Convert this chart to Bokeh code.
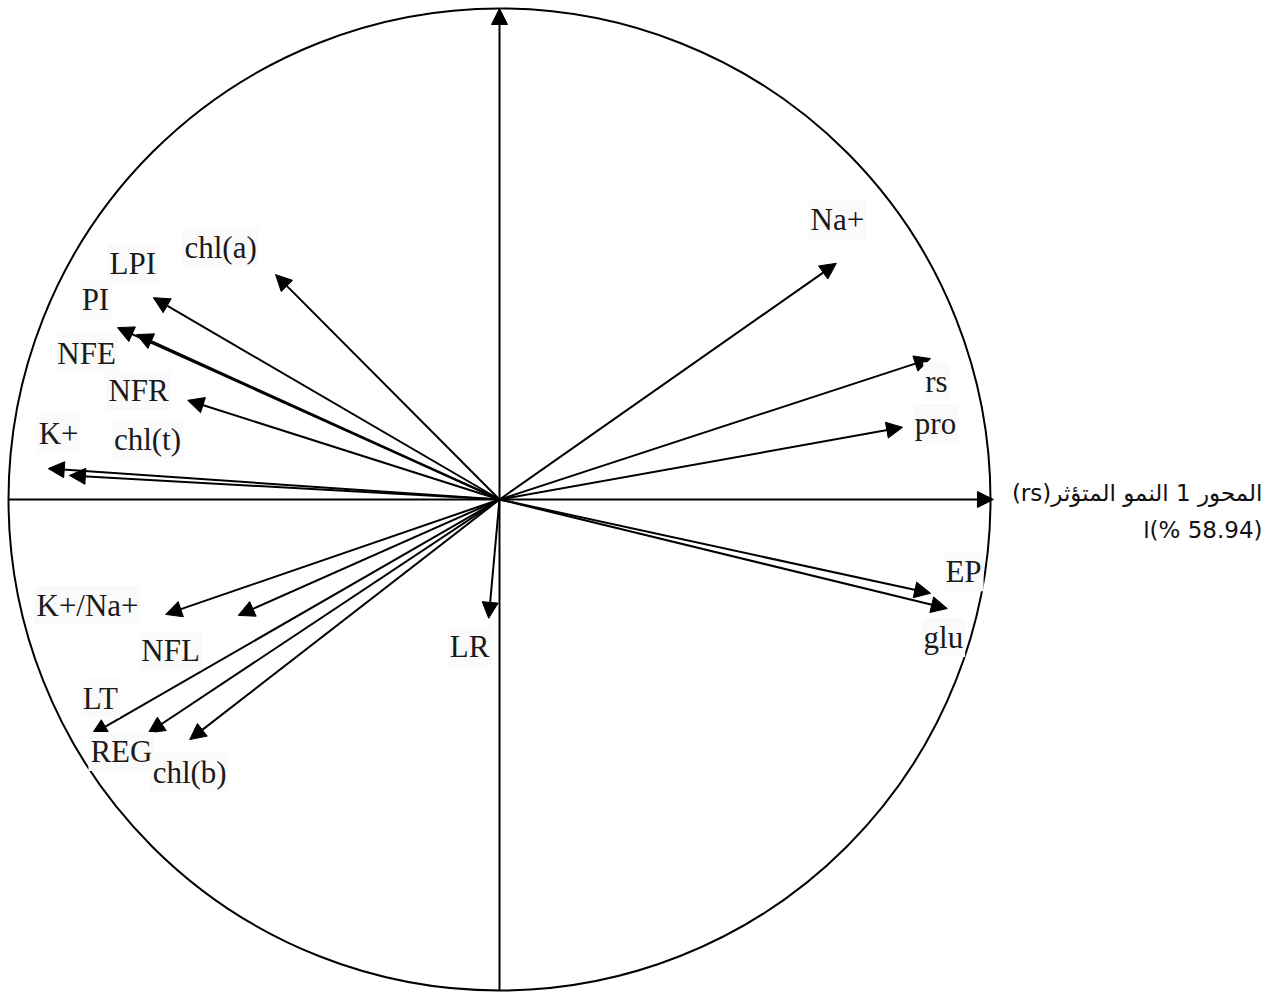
from bokeh.plotting import figure
from bokeh.models import Range1d, Arrow, NormalHead, ColumnDataSource, Label
from bokeh.embed import file_html
from bokeh.resources import INLINE

# ---- data: correlation-circle loadings (PC1, PC2) ----
variables = ["Na+", "rs", "pro", "EP", "glu", "LR", "chl(a)", "LPI", "PI", "NFE",
             "NFR", "K+", "chl(t)", "K+/Na+", "NFL", "LT", "REG", "chl(b)"]
pc1 = [0.686, 0.878, 0.821, 0.878, 0.912, -0.022, -0.456, -0.705, -0.778, -0.739,
       -0.635, -0.919, -0.876, -0.680, -0.532, -0.831, -0.715, -0.631]
pc2 = [0.481, 0.287, 0.147, -0.191, -0.222, -0.242, 0.458, 0.411, 0.350, 0.336,
       0.202, 0.063, 0.049, -0.234, -0.236, -0.479, -0.475, -0.489]

axis1_line1 = "(rs)المحور 1 النمو المتؤثر"
axis1_line2 = "\u202dا(% 58.94)\u202c"

# ---- layout (label anchor positions, in circle units) ----
label_pos = {
    "Na+": (0.688, 0.570), "rs": (0.890, 0.240), "pro": (0.888, 0.155),
    "EP": (0.945, -0.147), "glu": (0.904, -0.281), "LR": (-0.061, -0.299),
    "chl(a)": (-0.568, 0.513), "LPI": (-0.747, 0.481), "PI": (-0.823, 0.407),
    "NFE": (-0.841, 0.297), "NFR": (-0.735, 0.222), "K+": (-0.898, 0.134),
    "chl(t)": (-0.717, 0.122), "K+/Na+": (-0.839, -0.216), "NFL": (-0.670, -0.308),
    "LT": (-0.813, -0.405), "REG": (-0.770, -0.513), "chl(b)": (-0.631, -0.556),
}

W, H = 1280, 992
R = 491.0
cx, cy = 499, 499

p = figure(width=W, height=H, output_backend="svg", toolbar_location=None,
           x_range=Range1d(-cx / R, (W - cx) / R),
           y_range=Range1d(-(H - cy) / R, cy / R),
           min_border=0, background_fill_color="white", border_fill_color="white")
p.axis.visible = False
p.grid.visible = False
p.outline_line_color = None

# circle
p.circle(x=[0], y=[0], radius=1.0, fill_color=None, line_color="black", line_width=2)

# axes
p.add_layout(Arrow(x_start=-1.0, y_start=0, x_end=1.006, y_end=0, line_width=2,
                   end=NormalHead(size=16, fill_color="black", line_color="black")))
p.add_layout(Arrow(x_start=0, y_start=-1.0, x_end=0, y_end=1.0, line_width=2,
                   end=NormalHead(size=16, fill_color="black", line_color="black")))

# loading arrows
src = ColumnDataSource(dict(x0=[0.0] * len(pc1), y0=[0.0] * len(pc1), x1=pc1, y1=pc2))
p.add_layout(Arrow(x_start="x0", y_start="y0", x_end="x1", y_end="y1", source=src,
                   line_width=2, line_color="black",
                   end=NormalHead(size=16, fill_color="black", line_color="black")))

# labels
for name in variables:
    lx, ly = label_pos[name]
    p.add_layout(Label(x=lx, y=ly, text=name, text_align="center", text_baseline="middle",
                       text_font="Liberation Serif", text_font_size="31px", text_color="#1a1a1a",
                       background_fill_color="#fafafa", padding=2))

xr = (1262 - cx) / R
p.add_layout(Label(x=xr, y=(cy - 492) / R, text=axis1_line1, text_align="right",
                   text_baseline="middle", text_font="DejaVu Sans", text_font_size="23px",
                   text_color="#111111"))
p.add_layout(Label(x=xr, y=(cy - 529) / R, text=axis1_line2, text_align="right",
                   text_baseline="middle", text_font="DejaVu Sans", text_font_size="23px",
                   text_color="#111111"))

open("out.html", "w").write(file_html(p, INLINE))
